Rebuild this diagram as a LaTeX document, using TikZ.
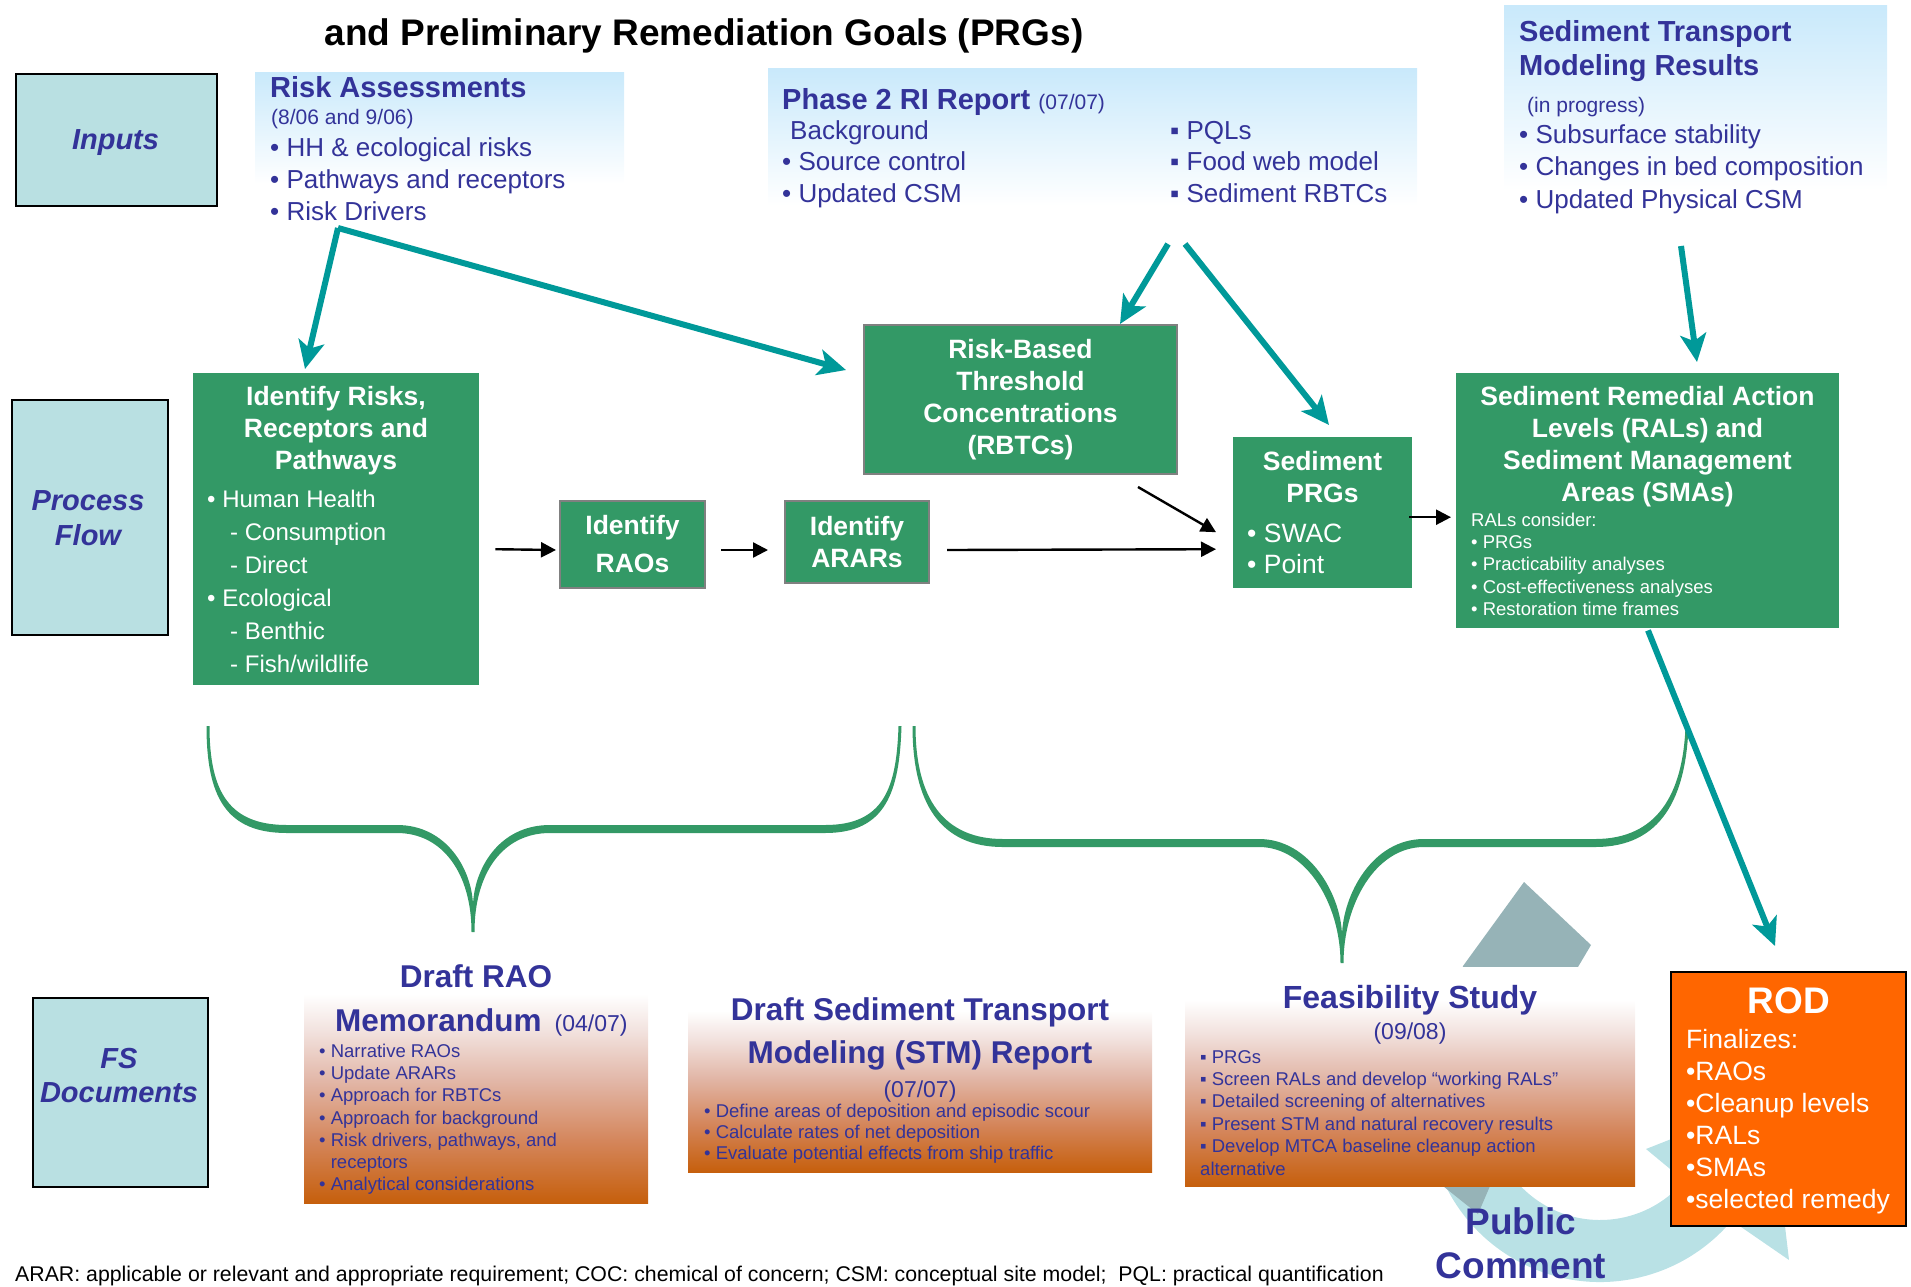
\documentclass[tikz,border=0pt]{standalone}
\usepackage{fontspec}
\setmainfont{Liberation Sans}
\usetikzlibrary{arrows.meta,calc}

\definecolor{procgreen}{HTML}{339966}
\definecolor{bracegreen}{HTML}{339966}
\definecolor{flowteal}{HTML}{009999}
\definecolor{inkblue}{HTML}{333399}
\definecolor{sidefill}{HTML}{B9E0E2}
\definecolor{skyblue}{HTML}{C9E9FB}
\definecolor{rodorange}{HTML}{FF6600}
\definecolor{cyclegray}{HTML}{96B3B7}
\definecolor{cyclelight}{HTML}{B9E1E5}
\definecolor{docA}{HTML}{C65F0C}
\definecolor{docB}{HTML}{D4855A}
\definecolor{docC}{HTML}{E2B7A8}
\definecolor{docD}{HTML}{F2E2DE}
\definecolor{boxrim}{HTML}{808080}

\pgfdeclareverticalshading{docfade}{100bp}{color(0bp)=(docA); color(25bp)=(docA); color(37.5bp)=(docB); color(50bp)=(docC); color(60bp)=(docD); color(67.5bp)=(white); color(100bp)=(white)}
\pgfdeclareverticalshading{skyfade}{100bp}{color(0bp)=(white); color(32bp)=(white); color(75bp)=(skyblue); color(100bp)=(skyblue)}

\newcommand\fsz[2]{\fontsize{#1}{#2}\selectfont}
\newcommand\topstrut{\rule{0pt}{0.75em}}

\tikzset{
  sidebox/.style={draw=black, line width=2pt, fill=sidefill, inner sep=0pt, anchor=north west},
  greenbox/.style={fill=procgreen, inner sep=0pt, anchor=north west},
  rimbox/.style={greenbox, draw=boxrim, line width=2pt},
  skybox/.style={shade, shading=skyfade, inner sep=0pt, anchor=north west},
  docbox/.style={shade, shading=docfade, inner sep=0pt, anchor=north west},
  rodbox/.style={fill=rodorange, draw=black, line width=2.2pt, inner sep=0pt, anchor=north west},
  txt/.style={inner sep=0pt, anchor=north west, align=left},
  ctxt/.style={inner sep=0pt, anchor=north, align=center},
  tealarrow/.style={draw=flowteal, line width=6pt, -{Stealth[length=28pt,width=26pt,inset=7pt]}},
  blackarrow/.style={draw=black, line width=2.4pt, -{Triangle[length=15pt,width=15pt]}},
  bracefill/.style={fill=bracegreen},
}

\begin{document}
\begin{tikzpicture}[x=1pt, y=-1pt]
\useasboundingbox (0,0) rectangle (1911,1286);

% ---------- public comment cycle (behind the documents) ----------
\coordinate (cc) at (1600,1110);
\fill[cyclelight] ($(cc)+(165:172)$) arc[start angle=165, end angle=40, radius=172]
  -- (1789,1260) -- (1770,1100) -- (1646,1149)
  -- ($(cc)+(40:110)$) arc[start angle=40, end angle=165, radius=110] -- cycle;
\fill[cyclegray] (1463,966) -- (1524,882) -- (1591,945) -- (1575,972)
  -- (1490,1186) -- (1478,1214) -- (1443,1186) -- cycle;

% ---------- title ----------
\node[ctxt, font={\fsz{37}{40}\bfseries}] (title) at (704,17.25)
  {\topstrut and Preliminary Remediation Goals (PRGs)};

% ---------- row labels ----------
\node[sidebox, minimum width=201pt, minimum height=132pt] (inputs) at (15,73) {};
\node[ctxt, text=inkblue, font={\fsz{29}{35}\bfseries\itshape}] (inputsT) at (115.5,127.25) {\topstrut Inputs};
\node[sidebox, minimum width=156pt, minimum height=235pt] (procflow) at (11,399) {};
\node[ctxt, text=inkblue, font={\fsz{29}{35.5}\bfseries\itshape}] (procflowT) at (88,488.25) {\topstrut Process\\Flow};
\node[sidebox, minimum width=175pt, minimum height=189pt] (fsdocs) at (32,997) {};
\node[ctxt, text=inkblue, font={\fsz{29}{34.5}\bfseries\itshape}] (fsdocsT) at (119,1046.25) {\topstrut FS\\Documents};

% ---------- inputs ----------
\node[skybox, minimum width=369pt, minimum height=130pt] (riskA) at (255,72) {};
\node[txt, text=inkblue, font={\fsz{29}{33}\bfseries}] (riskAT) at (270,75.75) {\topstrut Risk Assessments};
\node[txt, text=inkblue, font={\fsz{21}{25}}] (riskAD) at (271,108.75) {\topstrut (8/06 and 9/06)};
\node[txt, text=inkblue, font={\fsz{26}{32}}] (riskAL) at (270,136.5)
  {\topstrut • HH \& ecological risks\\• Pathways and receptors\\• Risk Drivers};

\node[skybox, minimum width=649pt, minimum height=160pt] (phase2) at (768,68) {};
\node[txt, text=inkblue, font={\fsz{29}{33}\bfseries}] (phase2T) at (782,87.25)
  {\topstrut Phase 2 RI Report {\fsz{21}{25}\mdseries(07/07)}};
\node[txt, text=inkblue, font={\fsz{26}{31.5}}] (phase2L) at (782,119.5)
  {\topstrut\hspace{8pt}Background\\• Source control\\• Updated CSM};
\node[txt, text=inkblue, font={\fsz{26}{31.5}}] (phase2R) at (1170,119.5)
  {\topstrut ▪ PQLs\\▪ Food web model\\▪ Sediment RBTCs};

\node[skybox, minimum width=383pt, minimum height=215pt] (sedtr) at (1504,5) {};
\node[txt, text=inkblue, font={\fsz{29}{33.5}\bfseries}] (sedtrT) at (1519,19.75)
  {\topstrut Sediment Transport\\Modeling Results};
\node[txt, text=inkblue, font={\fsz{21}{25}}] (sedtrP) at (1527,96.25) {\topstrut (in progress)};
\node[txt, text=inkblue, font={\fsz{26}{32.5}}] (sedtrL) at (1519,123.5)
  {\topstrut • Subsurface stability\\• Changes in bed composition\\• Updated Physical CSM};

% ---------- process flow ----------
\node[greenbox, minimum width=286pt, minimum height=312pt] (idrisk) at (193,373) {};
\node[ctxt, text=white, font={\fsz{26.5}{32}\bfseries}] (idriskT) at (336,385.6)
  {\topstrut Identify Risks,\\Receptors and\\Pathways};
\node[txt, text=white, font={\fsz{24}{33}}] (idriskL) at (207,489)
  {\topstrut • Human Health\\\hspace{23pt}- Consumption\\\hspace{23pt}- Direct\\• Ecological\\\hspace{23pt}- Benthic\\\hspace{23pt}- Fish/wildlife};

\node[rimbox, minimum width=145pt, minimum height=87pt, text=white, align=center,
      font={\fsz{26.5}{38}\bfseries}] (idraos) at (559,500) {Identify\\RAOs};
\node[rimbox, minimum width=144pt, minimum height=82pt, text=white, align=center,
      font={\fsz{26.5}{32}\bfseries}] (idarars) at (784,500) {Identify\\ARARs};
\node[rimbox, minimum width=313pt, minimum height=149pt, text=white, align=center,
      font={\fsz{26.5}{32}\bfseries}] (rbtc) at (863,324)
  {Risk-Based\\Threshold\\Concentrations\\(RBTCs)};

\node[greenbox, minimum width=179pt, minimum height=151pt] (sedprg) at (1233,437) {};
\node[ctxt, text=white, font={\fsz{26.5}{32}\bfseries}] (sedprgT) at (1322.5,450.1)
  {\topstrut Sediment\\PRGs};
\node[txt, text=white, font={\fsz{26.5}{31}}] (sedprgL) at (1247,522.1)
  {\topstrut • SWAC\\• Point};

\node[greenbox, minimum width=383pt, minimum height=255pt] (rals) at (1456,373) {};
\node[ctxt, text=white, font={\fsz{26.5}{32}\bfseries}] (ralsT) at (1647.5,385.1)
  {\topstrut Sediment Remedial Action\\Levels (RALs) and\\Sediment Management\\Areas (SMAs)};
\node[txt, text=white, font={\fsz{18.5}{22.3}}] (ralsL) at (1471,512.1)
  {\topstrut RALs consider:\\• PRGs\\• Practicability analyses\\• Cost-effectiveness analyses\\• Restoration time frames};

% ---------- FS documents ----------
\node[docbox, minimum width=344pt, minimum height=246pt] (draftrao) at (304,957) {};
\node[ctxt, text=inkblue, font={\fsz{31.5}{36}\bfseries}] (draftraoT) at (476,963.4) {\topstrut Draft RAO};
\node[txt, text=inkblue, font={\fsz{31.5}{36}\bfseries}] (draftraoM) at (335,1007.4)
  {\topstrut Memorandum\hspace{13pt}{\fsz{23}{26}\mdseries(04/07)}};
\node[txt, text=inkblue, font={\fsz{18.5}{22.3}}] (draftraoL) at (319,1043.1)
  {\topstrut • Narrative RAOs\\• Update ARARs\\• Approach for RBTCs\\• Approach for background\\• Risk drivers, pathways, and\\\phantom{• }receptors\\• Analytical considerations};

\node[docbox, minimum width=464pt, minimum height=190pt] (draftstm) at (688,982) {};
\node[ctxt, text=inkblue, font={\fsz{31.5}{43}\bfseries}] (draftstmT) at (920,996.4)
  {\topstrut Draft Sediment Transport\\Modeling (STM) Report};
\node[ctxt, text=inkblue, font={\fsz{23}{26}}] (draftstmD) at (920,1079.75) {\topstrut (07/07)};
\node[txt, text=inkblue, font={\fsz{18.5}{21}}] (draftstmL) at (704,1103.1)
  {\topstrut • Define areas of deposition and episodic scour\\• Calculate rates of net deposition\\• Evaluate potential effects from ship traffic};

\node[docbox, minimum width=450pt, minimum height=219pt] (feas) at (1185,967) {};
\node[ctxt, text=inkblue, font={\fsz{32}{36}\bfseries}] (feasT) at (1410,984) {\topstrut Feasibility Study};
\node[ctxt, text=inkblue, font={\fsz{23}{26}}] (feasD) at (1410,1021.75) {\topstrut (09/08)};
\node[txt, text=inkblue, font={\fsz{18.5}{22.4}}] (feasL) at (1200,1049.1)
  {\topstrut ▪ PRGs\\▪ Screen RALs and develop “working RALs”\\▪ Detailed screening of alternatives\\▪ Present STM and natural recovery results\\▪ Develop MTCA baseline cleanup action\\alternative};

\node[rodbox, minimum width=235pt, minimum height=254pt] (rod) at (1670,971) {};
\node[ctxt, text=white, font={\fsz{37}{40}\bfseries}] (rodT) at (1789,985.25) {\topstrut ROD};
\node[txt, text=white, font={\fsz{26.5}{32}}] (rodL) at (1686,1028.1)
  {\topstrut Finalizes:\\•RAOs\\•Cleanup levels\\•RALs\\•SMAs\\•selected remedy};

\node[ctxt, text=inkblue, font={\fsz{37}{44}\bfseries}] (pubcom) at (1521,1206.25)
  {\topstrut Public\\Comment};

% ---------- footnote ----------
\node[txt, font={\fsz{21.3}{24}}] (abbrev) at (15,1265)
  {\topstrut ARAR: applicable or relevant and appropriate requirement; COC: chemical of concern; CSM: conceptual site model;\ \ PQL: practical quantification};

% ---------- braces grouping the process steps (tapered strokes) ----------
\fill[bracefill] (206.5,726) .. controls (206.5,797) and (226,833) .. (287,833) -- (397,833)
  .. controls (443,833) and (471.5,874) .. (471.5,932) -- (474.5,932)
  .. controls (474.5,874) and (502,833) .. (550,833) -- (825,833)
  .. controls (886,833) and (899.5,792) .. (901.5,726) -- (898.5,726)
  .. controls (896.5,788) and (884,825) .. (825,825) -- (550,825)
  .. controls (498,825) and (474,870) .. (473,905)
  .. controls (472,870) and (447,825) .. (397,825) -- (287,825)
  .. controls (230,825) and (209.5,793) .. (209.5,726) -- cycle;
\fill[bracefill] (912.5,726) .. controls (912.5,803) and (940,847) .. (1003,847) -- (1259,847)
  .. controls (1307,847) and (1340.5,905) .. (1340.5,963) -- (1343.5,963)
  .. controls (1343.5,905) and (1375,847) .. (1424,847) -- (1595,847)
  .. controls (1662,847) and (1686,797) .. (1688.5,726) -- (1685.5,726)
  .. controls (1683,793) and (1658,839) .. (1595,839) -- (1424,839)
  .. controls (1372,839) and (1343,895) .. (1342,935)
  .. controls (1341,895) and (1310,839) .. (1259,839) -- (1003,839)
  .. controls (944,839) and (915.5,799) .. (915.5,726) -- cycle;

% ---------- input arrows ----------
\coordinate (drv) at (338,228);
\coordinate (ph2a) at (1168,244);
\coordinate (ph2b) at (1185,244);
\coordinate (stmr) at (1681,246);
\draw[tealarrow] (drv) -- ([xshift=112pt,yshift=4pt]idrisk.north west);
\draw[tealarrow] (drv) -- ([xshift=-17pt,yshift=29.5pt]rbtc.west);
\draw[tealarrow] (ph2a) -- ([xshift=257pt]rbtc.north west);
\draw[tealarrow] (ph2b) -- ([xshift=96pt,yshift=12pt]sedprg.north west);
\draw[tealarrow] (stmr) -- ([xshift=241pt,yshift=11pt]rals.north west);
\draw[tealarrow] ([xshift=192pt,yshift=-2pt]rals.south west) -- ([xshift=105pt,yshift=25pt]rod.north west);

% ---------- process arrows ----------
\draw[blackarrow] ([xshift=16pt,yshift=-20pt]idrisk.east) -- ([xshift=-3pt,yshift=-5.5pt]idraos.west);
\draw[blackarrow] ([xshift=15pt,yshift=-5.5pt]idraos.east) -- ([xshift=-16pt,yshift=-8pt]idarars.west);
\draw[blackarrow] ([xshift=17pt,yshift=-8pt]idarars.east) -- ([xshift=-17pt,yshift=-36.5pt]sedprg.west);
\draw[blackarrow] ([xshift=-40pt,yshift=-12pt]rbtc.south east) -- ([xshift=-17pt,yshift=-19.5pt]sedprg.west);
\draw[blackarrow] ([xshift=-3pt,yshift=-4.5pt]sedprg.east) -- ([xshift=-5pt,yshift=-16.5pt]rals.west);

\end{tikzpicture}
\end{document}
